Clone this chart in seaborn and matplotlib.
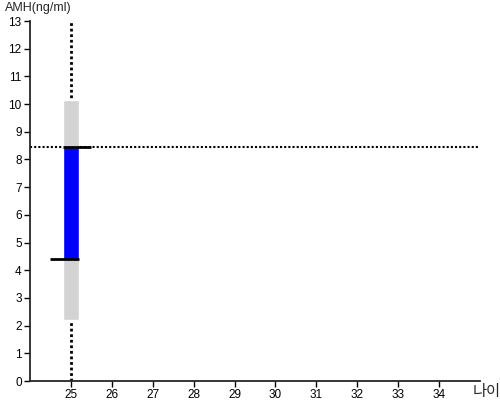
import matplotlib
matplotlib.use("Agg")
import matplotlib.pyplot as plt
import seaborn as sns
import pandas as pd

# data
age = [25]
range_low = [2.2]
range_high = [10.15]
patient_low = [4.4]
patient_high = [8.45]
ref_value = 8.45
x_ticks = list(range(25, 35))
y_ticks = list(range(0, 14))

sns.set_style("ticks")
plt.rcParams['font.family'] = ['Liberation Sans', 'Noto Sans CJK KR', 'DejaVu Sans']

fig = plt.figure(figsize=(5, 4), dpi=100)
ax = fig.add_axes([0.06, 0.0475, 0.9, 0.9])

df_range = pd.DataFrame({"age": age, "h": [h - l for h, l in zip(range_high, range_low)], "b": range_low})
df_pat = pd.DataFrame({"age": age, "h": [h - l for h, l in zip(patient_high, patient_low)], "b": patient_low})

ax.bar(df_range["age"], df_range["h"], bottom=df_range["b"], width=0.4, color="#d3d3d3", zorder=2)
ax.bar(df_pat["age"], df_pat["h"], bottom=df_pat["b"], width=0.4, color="#0000ff", zorder=3)

# dotted lines
ax.axvline(age[0], color="black", linestyle=(0, (1, 1)), linewidth=2, zorder=1)
ax.axhline(ref_value, color="black", linestyle=(0, (1, 1)), linewidth=1.5, zorder=1)
# black markers
sns.lineplot(x=[age[0] - 0.2, age[0] + 0.5], y=[patient_high[0]] * 2, color="black", linewidth=2,
             ax=ax, zorder=4, solid_capstyle="butt")
sns.lineplot(x=[age[0] - 0.5, age[0] + 0.2], y=[patient_low[0]] * 2, color="black", linewidth=2,
             ax=ax, zorder=4, solid_capstyle="butt")

ax.set_xlim(24, 35)
ax.set_ylim(0, 13)
ax.set_xticks(x_ticks)
ax.set_yticks(y_ticks)
ax.tick_params(labelsize=8.5, length=4, width=1, pad=2, colors="black")
for s in ("top", "right"):
    ax.spines[s].set_visible(False)
for s in ("left", "bottom"):
    ax.spines[s].set_linewidth(1.3)

fig.text(0.01, 0.965, "AMH(ng/ml)", fontsize=9, ha="left", va="bottom")
fig.text(0.945, 0.0, "나이", fontsize=11, ha="left", va="bottom",
         family=['Noto Sans CJK KR', 'DejaVu Sans'], fontweight="light")

fig.savefig("out.png", dpi=100)
